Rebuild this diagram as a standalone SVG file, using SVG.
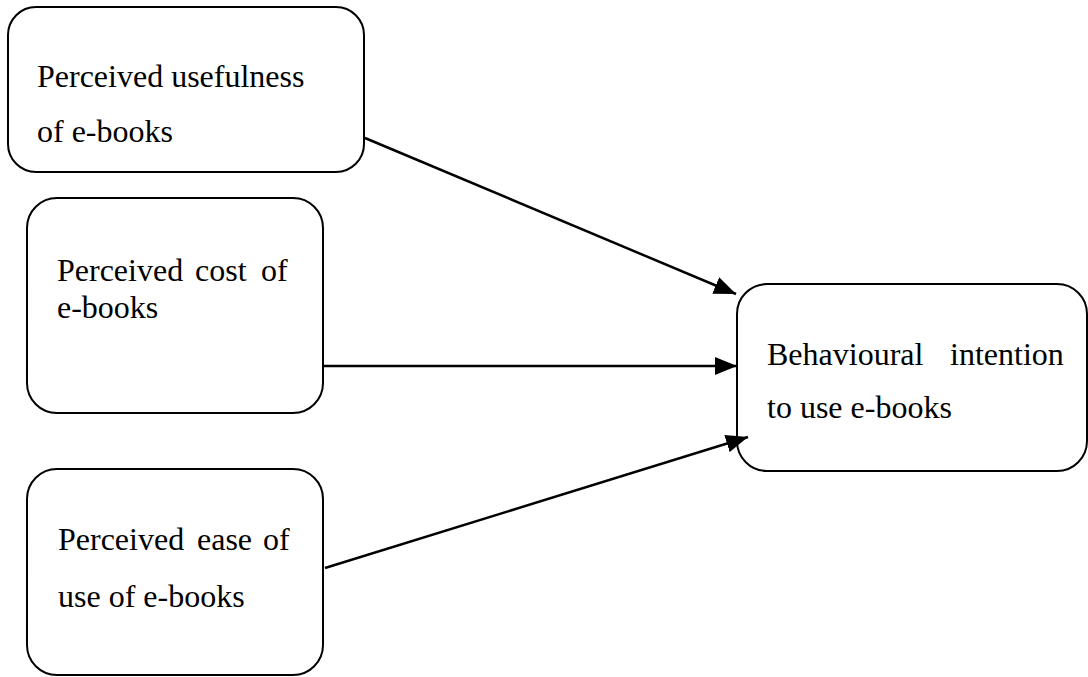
<svg xmlns="http://www.w3.org/2000/svg" width="1088" height="677" viewBox="0 0 1088 677">
<style>
.box{fill:#fff;stroke:#000;stroke-width:2}
.t{font-family:"Liberation Serif","Times New Roman",serif;font-size:32px;fill:#000}
.c{stroke:#000;stroke-width:2.5;fill:none}
</style>
<defs>
<marker id="arr" markerUnits="userSpaceOnUse" markerWidth="23" markerHeight="18" refX="22" refY="9" orient="auto">
<path d="M0,0 L22,9 L0,18 Z" fill="#000"/>
</marker>
</defs>
<rect width="1088" height="677" fill="#fff"/>
<g id="n1">
<rect class="box" x="8" y="7" width="356" height="165" rx="28" ry="28"/>
<text class="t" x="37" y="87">Perceived usefulness</text>
<text class="t" x="37" y="142">of e-books</text>
</g>
<g id="n2">
<rect class="box" x="27" y="198" width="296" height="215" rx="30" ry="30"/>
<text class="t" y="281"><tspan x="57">Perceived</tspan><tspan x="195">cost</tspan><tspan x="261">of</tspan></text>
<text class="t" x="57" y="318">e-books</text>
</g>
<g id="n3">
<rect class="box" x="27" y="469" width="296" height="206" rx="30" ry="30"/>
<text class="t" y="550"><tspan x="58">Perceived</tspan><tspan x="197">ease</tspan><tspan x="263">of</tspan></text>
<text class="t" x="58" y="607">use of e-books</text>
</g>
<g id="n4">
<rect class="box" x="737" y="284" width="350" height="187" rx="30" ry="30"/>
<text class="t" y="365"><tspan x="767">Behavioural</tspan><tspan x="950">intention</tspan></text>
<text class="t" x="767" y="418">to use e-books</text>
</g>
<g id="connectors">
<line class="c" x1="365" y1="138" x2="736" y2="294" marker-end="url(#arr)"/>
<line class="c" x1="323" y1="366" x2="737" y2="366" marker-end="url(#arr)"/>
<line class="c" x1="325" y1="568" x2="748" y2="437" marker-end="url(#arr)"/>
</g>
</svg>
